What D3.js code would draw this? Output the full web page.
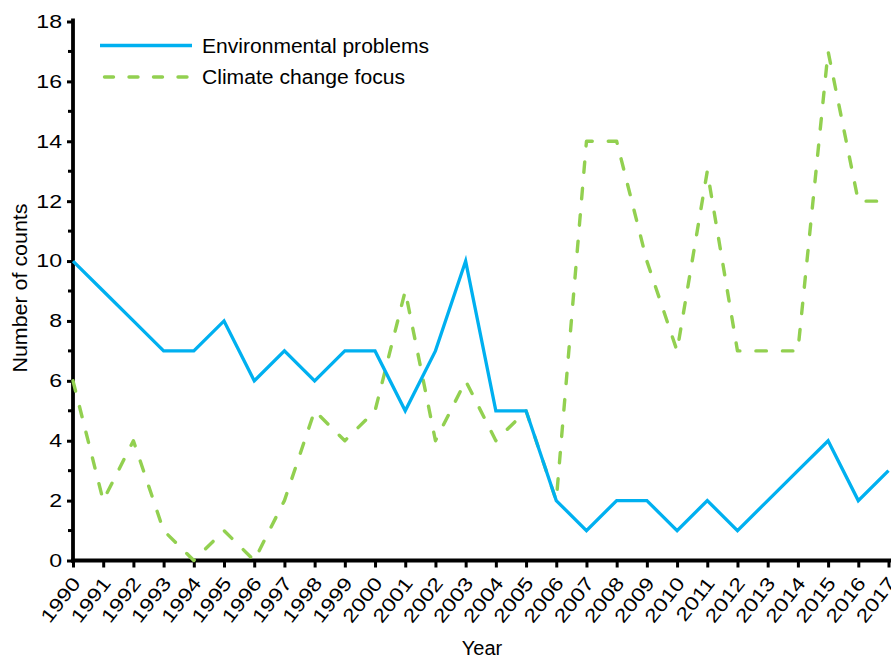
<!DOCTYPE html>
<html><head><meta charset="utf-8">
<script src="https://cdn.jsdelivr.net/npm/d3@7"></script>
<style>body{margin:0;background:#fff}svg{display:block}text{font-family:"Liberation Sans",Arial,sans-serif}</style>
</head><body><svg id="c" width="891" height="658"></svg>
<script>
const years = d3.range(1990, 2018);
const envProblems = [10,9,8,7,7,8,6,7,6,7,7,5,7,10,5,5,2,1,2,2,1,2,1,2,3,4,2,3];
const climateFocus = [6,2,4,1,0,1,0,2,5,4,5,9,4,6,4,5,2,14,14,10,7,13,7,7,7,17,12,12];
const yTicks = [0,2,4,6,8,10,12,14,16,18];
const seriesNames = ["Environmental problems","Climate change focus"];

const svg = d3.select("#c");
const x0 = 73, x1 = 888.5, yTop = 21.5, yBot = 560.5;
const x = d3.scaleLinear().domain([1990, 2017]).range([x0, x1]);
const y = d3.scaleLinear().domain([0, 18]).range([yBot, yTop]);
const stretch = (sel, k) => sel.each(function(){ const L = this.getComputedTextLength(); d3.select(this).attr("textLength", L*k).attr("lengthAdjust","spacingAndGlyphs"); });

const blue = "#00b0f0", green = "#92d050";

// y axis
const ya = svg.append("g").attr("transform", `translate(${x0},0)`)
  .call(d3.axisLeft(y).tickValues(yTicks).tickSize(6).tickPadding(5).tickFormat(d3.format("d")));
ya.select(".domain").remove();
ya.selectAll(".tick line").attr("stroke","#000").attr("stroke-width",3);
ya.selectAll(".tick text").attr("font-size",18.5).attr("fill","#000").call(stretch, 1.25);
ya.append("g").selectAll("line").data(d3.range(1,18,2)).join("line")
  .attr("x1",-5).attr("x2",0).attr("y1",d=>y(d)).attr("y2",d=>y(d))
  .attr("stroke","#000").attr("stroke-width",3);
ya.append("line").attr("x1",0).attr("x2",0).attr("y1",yTop-3).attr("y2",yBot+2).attr("stroke","#000").attr("stroke-width",3.8);

// x axis
const xa = svg.append("g").attr("transform", `translate(0,${yBot})`)
  .call(d3.axisBottom(x).tickValues(years).tickSize(7).tickFormat(d3.format("d")));
xa.select(".domain").remove();
xa.append("line").attr("x1",x0-2).attr("x2",891).attr("y1",0).attr("y2",0).attr("stroke","#000").attr("stroke-width",3.8);
xa.selectAll(".tick line").attr("stroke","#000").attr("stroke-width",3);
xa.selectAll(".tick text").attr("font-size",19).attr("fill","#000")
  .attr("text-anchor","end").attr("dy",0).attr("y",0)
  .attr("transform","translate(8,23) rotate(-52)").call(stretch, 1.22);

// axis titles
svg.append("text").attr("x",482).attr("y",654.5).attr("text-anchor","middle").attr("font-size",20).text("Year");
svg.append("text").attr("transform","translate(27,288) rotate(-90)").attr("text-anchor","middle").attr("font-size",19.5)
  .text("Number of counts").attr("textLength",169).attr("lengthAdjust","spacingAndGlyphs");

const line = d3.line().x((d,i)=>x(years[i])).y(d=>y(d));
svg.append("path").datum(climateFocus).attr("d",line).attr("fill","none")
  .attr("stroke",green).attr("stroke-width",3.4).attr("stroke-dasharray","10.5,16").attr("stroke-linecap","round").attr("stroke-linejoin","round");
svg.append("path").datum(envProblems).attr("d",line).attr("fill","none")
  .attr("stroke",blue).attr("stroke-width",3.3).attr("stroke-linejoin","miter");

// legend
const lg = svg.append("g");
lg.append("line").attr("x1",100).attr("x2",192).attr("y1",45.5).attr("y2",45.5).attr("stroke",blue).attr("stroke-width",3.3);
lg.append("line").attr("x1",104.5).attr("x2",187).attr("y1",77).attr("y2",77).attr("stroke",green).attr("stroke-width",3.4).attr("stroke-dasharray","9,15.5").attr("stroke-linecap","round");
const legendLen = [227, 203];
lg.selectAll("text").data(seriesNames).join("text").attr("x",202).attr("y",(d,i)=>52.7+i*31)
  .attr("font-size",20).text(d=>d).attr("textLength",(d,i)=>legendLen[i]).attr("lengthAdjust","spacingAndGlyphs");
</script></body></html>
